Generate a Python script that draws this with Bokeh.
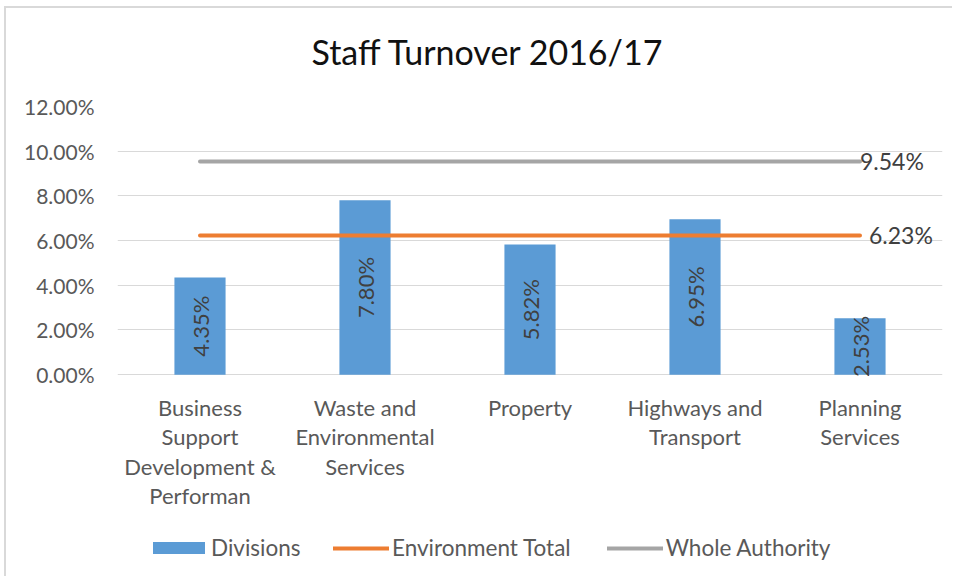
import math
from bokeh.plotting import figure
from bokeh.models import (Range1d, FixedTicker, PrintfTickFormatter, Legend,
                          LegendItem, ColumnDataSource, Title)
from bokeh.core.properties import value
from bokeh.embed import file_html
from bokeh.resources import INLINE

# ---- data ----
categories = [
    "Business\nSupport\nDevelopment &\nPerforman",
    "Waste and\nEnvironmental\nServices",
    "Property",
    "Highways and\nTransport",
    "Planning\nServices",
]
divisions = [4.35, 7.80, 5.82, 6.95, 2.53]
environment_total = [6.23, 6.23, 6.23, 6.23, 6.23]
whole_authority = [9.54, 9.54, 9.54, 9.54, 9.54]
y_ticks = [0, 2, 4, 6, 8, 10, 12]
title_text = "Staff Turnover 2016/17"

FONT = "Lato"
TXT = "#595959"
LBL = "#404040"
BLUE = "#5B9BD5"

idx = list(range(len(categories)))

# frame reaches down past the category labels so the legend can sit inside it
p = figure(
    width=946, height=568,
    output_backend="svg", toolbar_location=None,
    x_range=Range1d(-0.5, len(categories) - 0.5),
    y_range=Range1d(-9.03, y_ticks[-1]),
    x_axis_location=None,
    min_border_left=111, min_border_right=12,
    min_border_top=98, min_border_bottom=2,
    title=title_text,
)
p.styles = {"margin-left": "4px", "margin-top": "6px",
            "box-sizing": "content-box",
            "border-top": "2px solid #D9D9D9",
            "border-left": "2px solid #D9D9D9"}
p.outline_line_color = None
p.background_fill_color = "white"
p.border_fill_color = "white"

p.title.align = "left"
p.title.offset = 194
p.title.text_font = FONT
p.title.text_font_size = "34px"
p.title.text_font_style = "normal"
p.title.text_color = "#111111"
p.title.standoff = 0
# spacer between title and plot area
p.add_layout(Title(text=" ", text_font_size="1px", standoff=32), "above")

# y axis
p.yaxis.ticker = FixedTicker(ticks=y_ticks)
p.yaxis.formatter = PrintfTickFormatter(format="%.2f%%")
p.yaxis.axis_line_color = None
p.yaxis.major_tick_line_color = None
p.yaxis.minor_tick_line_color = None
p.yaxis.major_tick_out = 0
p.yaxis.major_tick_in = 0
p.yaxis.major_label_standoff = 23
p.yaxis.major_label_text_font = FONT
p.yaxis.major_label_text_font_size = "21px"
p.yaxis.major_label_text_color = TXT

p.xgrid.grid_line_color = None
p.ygrid.ticker = FixedTicker(ticks=y_ticks)
p.ygrid.grid_line_color = "#D9D9D9"
p.ygrid.grid_line_width = 1

src = ColumnDataSource(dict(
    x=idx,
    div=divisions,
    env=environment_total,
    whole=whole_authority,
    mid=[v / 2 for v in divisions],
    lab=[f"{v:.2f}%" for v in divisions],
    cat=categories,
    base=[y_ticks[0]] * len(categories),
))

bars = p.vbar(x="x", top="div", width=0.31, bottom=0, source=src,
              fill_color=BLUE, line_color=None)
env_line = p.line(x="x", y="env", source=src, line_color="#ED7D31",
                  line_width=4, line_cap="round")
whole_line = p.line(x="x", y="whole", source=src, line_color="#A5A5A5",
                    line_width=4, line_cap="round")

# bar value labels
p.text(x="x", y="mid", text="lab", source=src, angle=math.pi / 2,
       text_align="center", text_baseline="middle",
       text_font=value(FONT), text_font_size="22px", text_color=LBL)

# category labels under the axis line
p.text(x="x", y="base", text="cat", source=src, y_offset=19,
       text_align="center", text_baseline="top", text_line_height=1.09,
       text_font=value(FONT), text_font_size="22px", text_color=TXT)

# end-of-line labels
p.text(x=[idx[-1]], y=[whole_authority[-1]], text=[f"{whole_authority[-1]:.2f}%"],
       x_offset=0, text_align="left", text_baseline="middle",
       text_font=value(FONT), text_font_size="23px", text_color=LBL)
p.text(x=[idx[-1]], y=[environment_total[-1]], text=[f"{environment_total[-1]:.2f}%"],
       x_offset=9, text_align="left", text_baseline="middle",
       text_font=value(FONT), text_font_size="23px", text_color=LBL)

common = dict(
    orientation="horizontal", padding=0, margin=0,
    border_line_color=None, background_fill_alpha=0,
    label_text_font=FONT, label_text_font_size="22.5px", label_text_color=TXT,
)
legend_bars = Legend(
    items=[LegendItem(label="Divisions", renderers=[bars])],
    location=(29, 15), glyph_width=65, glyph_height=15, label_standoff=0,
    **common,
)
legend_lines = Legend(
    items=[
        LegendItem(label="Environment Total", renderers=[env_line]),
        LegendItem(label="Whole Authority", renderers=[whole_line]),
    ],
    location=(216, 15), glyph_width=56, glyph_height=12,
    label_standoff=3, spacing=36,
    **common,
)
p.add_layout(legend_bars, "center")
p.add_layout(legend_lines, "center")

open("out.html", "w").write(file_html(p, INLINE))
